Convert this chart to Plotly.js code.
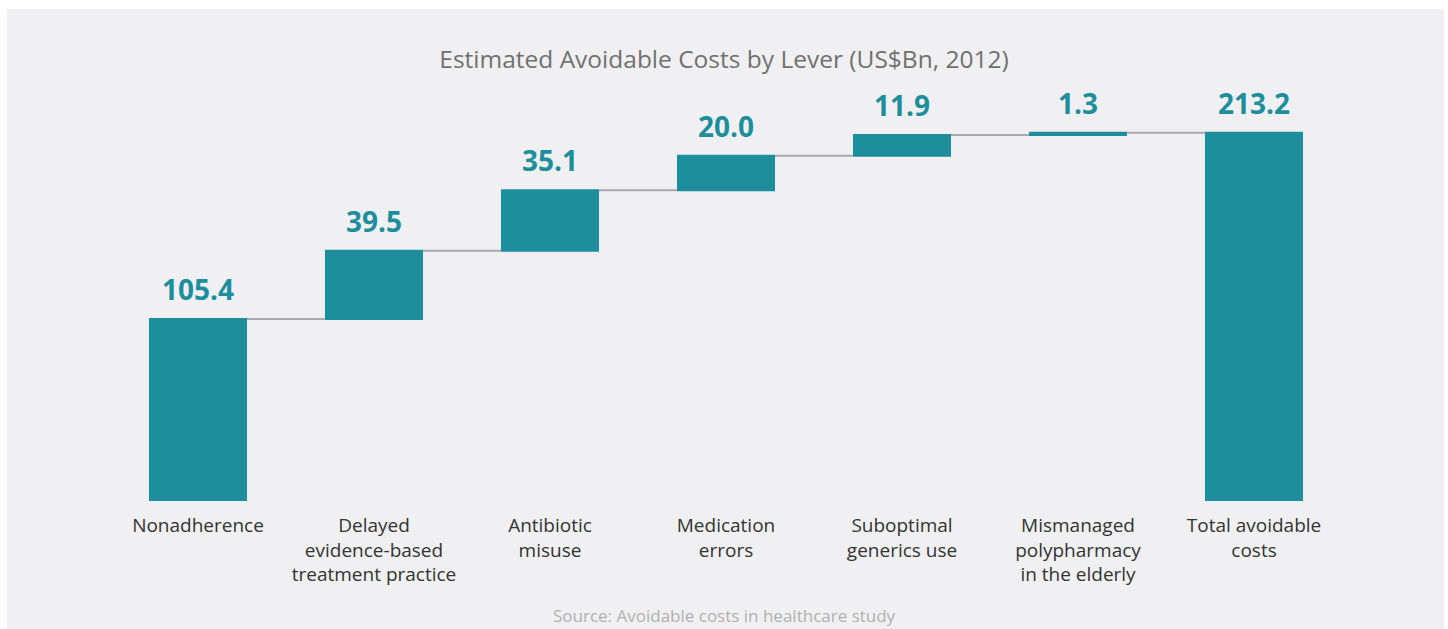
<!DOCTYPE html>
<html>
<head>
<meta charset="utf-8">
<script src="https://cdn.plot.ly/plotly-3.0.1.min.js"></script>
<style>html,body{margin:0;padding:0;background:#fff;}#chart{width:1448px;height:629px;}</style>
</head>
<body>
<div id="chart"></div>
<script>
const categories = [
  "Nonadherence",
  "Delayed<br>evidence-based<br>treatment practice",
  "Antibiotic<br>misuse",
  "Medication<br>errors",
  "Suboptimal<br>generics use",
  "Mismanaged<br>polypharmacy<br>in the elderly",
  "Total avoidable<br>costs"
];
const values = [105.4, 39.5, 35.1, 20.0, 11.9, 1.3, 213.2];
const measures = ["relative","relative","relative","relative","relative","relative","total"];
const labels = ["105.4","39.5","35.1","20.0","11.9","1.3","213.2"];

const teal = "#1e8e9c";

const trace = {
  type: "waterfall",
  x: categories,
  y: measures.map((m, i) => m === "total" ? 0 : values[i]),
  measure: measures,
  textposition: "none",
  cliponaxis: false,
  width: 0.557,
  increasing: {marker: {color: teal}},
  decreasing: {marker: {color: teal}},
  totals: {marker: {color: teal}},
  connector: {mode: "between", line: {color: "#aaaaaa", width: 2}},
  hoverinfo: "skip"
};

// value labels above each bar's top (running total)
let run = 0;
const labelAnns = categories.map((c, i) => {
  const top = measures[i] === "total" ? values[i] : (run += values[i]);
  return {
    x: c, y: top, xref: "x", yref: "y",
    text: "<b>" + labels[i] + "</b>",
    showarrow: false, xanchor: "center", yanchor: "bottom", yshift: 9,
    font: {family: "Open Sans", size: 28, color: teal}
  };
});

const layout = {
  width: 1448, height: 629,
  margin: {l: 110, r: 106, t: 80, b: 128},
  paper_bgcolor: "#ffffff",
  plot_bgcolor: "rgba(0,0,0,0)",
  showlegend: false,
  title: {
    text: "Estimated Avoidable Costs by Lever (US$Bn, 2012)",
    font: {family: "Open Sans", size: 24.5, color: "#707070"},
    x: 0.5, xanchor: "center", y: 0.905, yanchor: "middle"
  },
  xaxis: {
    type: "category",
    showgrid: false, zeroline: false, showline: false,
    tickfont: {family: "Open Sans", size: 19, color: "#333333"},
    ticks: "", ticklabelstandoff: 11, fixedrange: true
  },
  yaxis: {
    range: [0, 243.8], visible: false, showgrid: false, zeroline: false, fixedrange: true
  },
  shapes: [{
    type: "rect", xref: "paper", yref: "paper",
    x0: -0.0836, x1: 1.0828, y0: -0.305, y1: 1.1686,
    fillcolor: "#f0f0f2", line: {width: 0}, layer: "below"
  }],
  annotations: labelAnns.concat([{
    text: "Source: Avoidable costs in healthcare study",
    xref: "paper", yref: "paper", x: 0.499, y: -0.272,
    xanchor: "center", yanchor: "middle", showarrow: false,
    font: {family: "Open Sans", size: 17, color: "#b0b0b0"}
  }])
};

Plotly.newPlot("chart", [trace], layout, {displayModeBar: false, staticPlot: true});
</script>
</body>
</html>
